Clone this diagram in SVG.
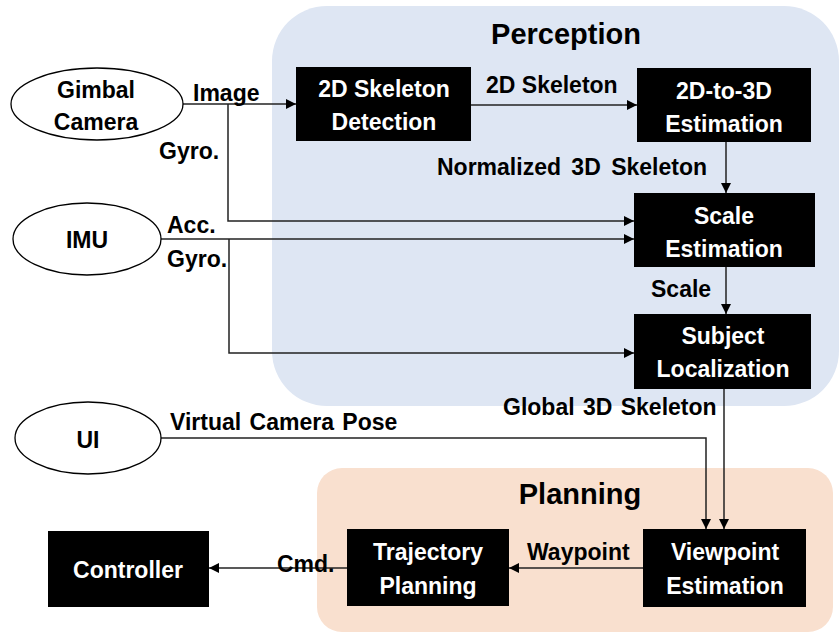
<svg xmlns="http://www.w3.org/2000/svg" width="840" height="634" viewBox="0 0 840 634">
<defs>
<style>
.t{font-family:"Liberation Sans",Arial,sans-serif;font-weight:bold;font-size:23px;fill:#000}
.w{font-family:"Liberation Sans",Arial,sans-serif;font-weight:bold;font-size:23px;fill:#fff;text-anchor:middle}
.h{font-family:"Liberation Sans",Arial,sans-serif;font-weight:bold;font-size:29px;fill:#000;text-anchor:middle}
.box{fill:#000}
.ell{fill:#fff;stroke:#000;stroke-width:1.3}
.c{fill:none;stroke:#222;stroke-width:1.5}
</style>
<marker id="ah" viewBox="0 0 10 10" refX="10" refY="5" markerWidth="10" markerHeight="10" markerUnits="userSpaceOnUse" orient="auto">
<path d="M0,0 L10,5 L0,10 z" fill="#000"/>
</marker>
</defs>
<rect width="840" height="634" fill="#fff"/>
<g id="perception-region">
<rect x="272" y="6" width="567" height="400" rx="55" ry="55" fill="#dee6f3"/>
<text class="h" x="566" y="44">Perception</text>
</g>
<g id="planning-region">
<rect x="317" y="468" width="516" height="164" rx="25" ry="25" fill="#f9e0cf"/>
<text class="h" x="580" y="504">Planning</text>
</g>
<g id="connectors">
<path class="c" d="M183,104 H296" marker-end="url(#ah)"/>
<path class="c" d="M228,104 V221 H634" marker-end="url(#ah)"/>
<path class="c" d="M161,239 H634" marker-end="url(#ah)"/>
<path class="c" d="M229,239 V353 H634" marker-end="url(#ah)"/>
<path class="c" d="M471,105 H637" marker-end="url(#ah)"/>
<path class="c" d="M726,142 V193" marker-end="url(#ah)"/>
<path class="c" d="M726,267 V314" marker-end="url(#ah)"/>
<path class="c" d="M724,389 V529" marker-end="url(#ah)"/>
<path class="c" d="M161,438 H706 V529" marker-end="url(#ah)"/>
<path class="c" d="M643,568 H509" marker-end="url(#ah)"/>
<path class="c" d="M347,568 H209" marker-end="url(#ah)"/>
<text class="t" x="193" y="101">Image</text>
<text class="t" x="159" y="159">Gyro.</text>
<text class="t" x="167" y="233">Acc.</text>
<text class="t" x="167" y="267">Gyro.</text>
<text class="t" x="486" y="93">2D Skeleton</text>
<text class="t" x="437" y="175" word-spacing="4">Normalized 3D Skeleton</text>
<text class="t" x="651" y="297">Scale</text>
<text class="t" x="503" y="415" word-spacing="2">Global 3D Skeleton</text>
<text class="t" x="170" y="430" word-spacing="2">Virtual Camera Pose</text>
<text class="t" x="527" y="560">Waypoint</text>
<text class="t" x="277" y="572">Cmd.</text>
</g>
<g id="gimbal-camera">
<ellipse class="ell" cx="97" cy="104" rx="86" ry="36"/>
<text class="t" x="96" y="98" text-anchor="middle">Gimbal</text>
<text class="t" x="96" y="130" text-anchor="middle">Camera</text>
</g>
<g id="imu">
<ellipse class="ell" cx="87" cy="239" rx="74" ry="36"/>
<text class="t" x="87" y="248" text-anchor="middle">IMU</text>
</g>
<g id="ui">
<ellipse class="ell" cx="88" cy="438" rx="73" ry="36"/>
<text class="t" x="88" y="448" text-anchor="middle">UI</text>
</g>
<g id="skeleton-detection">
<rect class="box" x="296" y="67" width="175" height="74"/>
<text class="w" x="384" y="97">2D Skeleton</text>
<text class="w" x="384" y="130">Detection</text>
</g>
<g id="estimation-2d-3d">
<rect class="box" x="637" y="68" width="174" height="74"/>
<text class="w" x="724" y="99">2D-to-3D</text>
<text class="w" x="724" y="132">Estimation</text>
</g>
<g id="scale-estimation">
<rect class="box" x="634" y="193" width="181" height="74"/>
<text class="w" x="724" y="224">Scale</text>
<text class="w" x="724" y="257">Estimation</text>
</g>
<g id="subject-localization">
<rect class="box" x="634" y="314" width="177" height="75"/>
<text class="w" x="723" y="344">Subject</text>
<text class="w" x="723" y="377">Localization</text>
</g>
<g id="viewpoint-estimation">
<rect class="box" x="643" y="529" width="163" height="78"/>
<text class="w" x="725" y="560">Viewpoint</text>
<text class="w" x="725" y="594">Estimation</text>
</g>
<g id="trajectory-planning">
<rect class="box" x="347" y="529" width="162" height="77"/>
<text class="w" x="428" y="560">Trajectory</text>
<text class="w" x="428" y="594">Planning</text>
</g>
<g id="controller">
<rect class="box" x="48" y="531" width="161" height="76"/>
<text class="w" x="128" y="578">Controller</text>
</g>
</svg>
